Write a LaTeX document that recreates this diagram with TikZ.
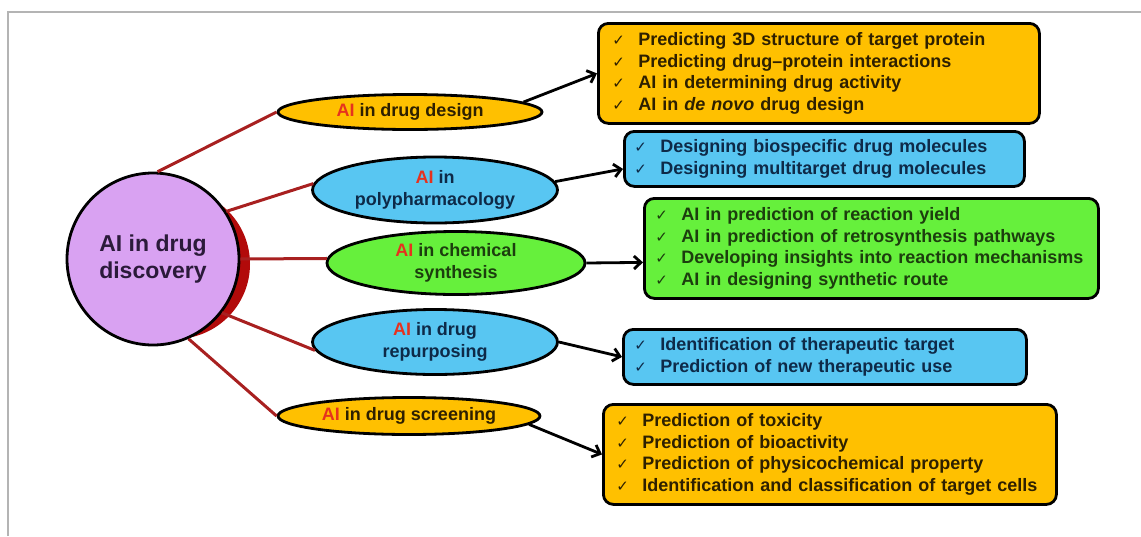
\documentclass[tikz,border=0pt]{standalone}
\usepackage{fontspec}
\setmainfont{Liberation Sans}
\newfontfamily\checkfont{DejaVu Sans}
\usetikzlibrary{shapes.geometric, arrows.meta}
\definecolor{lilac}{HTML}{D9A2F2}
\definecolor{shadowred}{HTML}{B20A0A}
\definecolor{amber}{HTML}{FFC000}
\definecolor{skyblue}{HTML}{58C6F2}
\definecolor{limegreen}{HTML}{66F03C}
\definecolor{linkred}{HTML}{A82020}
\definecolor{aired}{HTML}{E6321E}
\definecolor{inkbrown}{HTML}{2E2000}
\definecolor{inknavy}{HTML}{0E2A48}
\definecolor{inkgreen}{HTML}{1C3E0E}
\definecolor{inkpurple}{HTML}{2B1A3A}
\definecolor{framegray}{HTML}{B4B4B4}
\tikzset{topic/.style={ellipse, draw=black, line width=2.8pt, inner sep=0pt, align=center, font=\bfseries\fontsize{18}{22}\selectfont}}
\tikzset{itembox/.style={draw=black, line width=2.8pt, rounded corners=10pt, inner xsep=14pt, inner ysep=0pt, anchor=north west, align=left, font=\bfseries\fontsize{18}{21.5}\selectfont}}
\tikzset{link/.style={linkred, line width=3pt}}
\tikzset{feed/.style={black, line width=2.8pt, -{Straight Barb[length=7pt, width=13pt]}}}
\newcommand{\redai}{\textcolor{aired}{AI}}
\newcommand{\tick}{\makebox[26pt][l]{\checkfont\mdseries\fontsize{15}{15}\selectfont ✓}}

\begin{document}
\begin{tikzpicture}[x=1pt, y=-1pt]
    \useasboundingbox (0,0) rectangle (1141,536);
    \draw[framegray, line width=1.5pt] (8,536) -- (8,12) -- (1141,12);

    % hub with its red crescent behind
    \fill[shadowred] (175,264) circle (75);
    \node[circle, draw=black, line width=2.8pt, fill=lilac, minimum size=172, inner sep=0pt, align=center, text=inkpurple, font=\bfseries\fontsize{23}{27}\selectfont] (hub) at (153,259) {AI in drug\\discovery};

    % the five topics
    \node[topic, fill=amber, text=inkbrown, minimum width=264, minimum height=35] (design) at (410,112) {\redai{} in drug design};
    \node[topic, fill=skyblue, text=inknavy, minimum width=245, minimum height=66] (poly) at (435,190) {\redai{} in\\polypharmacology};
    \node[topic, fill=limegreen, text=inkgreen, minimum width=258, minimum height=63] (synth) at (456,263) {\redai{} in chemical\\synthesis};
    \node[topic, fill=skyblue, text=inknavy, minimum width=245, minimum height=65] (repurp) at (435,342) {\redai{} in drug\\repurposing};
    \node[topic, fill=amber, text=inkbrown, minimum width=262, minimum height=37] (screen) at (409,416) {\redai{} in drug screening};

    \foreach \a/\t/\b in {87/design/180, 33/poly/177, 0/synth/178, 322/repurp/184, 294/screen/180}
        \draw[link] (hub.\a) -- (\t.\b);

    % what each topic covers
    \node[itembox, fill=amber, text=inkbrown, text width=413pt, minimum height=100] (designlist) at (597,22) {\tick Predicting 3D structure of target protein\\\tick Predicting drug--protein interactions\\\tick AI in determining drug activity\\\tick AI in \textit{de novo} drug design};
    \node[itembox, inner xsep=10pt, fill=skyblue, text=inknavy, text width=380pt, minimum height=55] (polylist) at (623,130) {\tick Designing biospecific drug molecules\\\tick Designing multitarget drug molecules};
    \node[itembox, inner xsep=11pt, fill=limegreen, text=inkgreen, text width=432pt, minimum height=100] (synthlist) at (643,197) {\tick AI in prediction of reaction yield\\\tick AI in prediction of retrosynthesis pathways\\\tick Developing insights into reaction mechanisms\\\tick AI in designing synthetic route};
    \node[itembox, inner xsep=11pt, fill=skyblue, text=inknavy, text width=381pt, minimum height=55] (repurplist) at (622,328) {\tick Identification of therapeutic target\\\tick Prediction of new therapeutic use};
    \node[itembox, inner xsep=13pt, fill=amber, text=inkbrown, text width=427pt, minimum height=100] (screenlist) at (602,403) {\tick Prediction of toxicity\\\tick Prediction of bioactivity\\\tick Prediction of physicochemical property\\\tick Identification and classification of target cells};

    \draw[feed] (design.5) -- (designlist.west);
    \draw[feed] (poly.4) -- ([yshift=-10pt]polylist.west);
    \draw[feed] (synth.east) -- ([yshift=-14pt]synthlist.west);
    \draw[feed] (repurp.east) -- (repurplist.west);
    \draw[feed] (screen.356) -- (screenlist.west);
\end{tikzpicture}
\end{document}
